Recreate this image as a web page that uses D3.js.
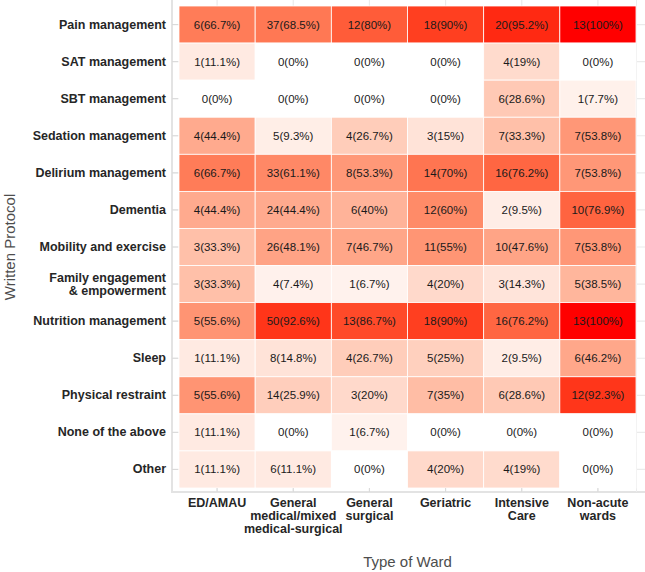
<!DOCTYPE html>
<html>
<head>
<meta charset="utf-8">
<style>
    body { margin: 0; background: #fff; }
    text { font-family: "Liberation Sans", Arial, sans-serif; }
    .domain { display: none; }
</style>
</head>
<body>
<svg width="645" height="572"></svg>
<script src="https://d3js.org/d3.v7.min.js"></script>
<script>
    // columns (type of ward) and rows (written protocol)
    var wards = ["ED/AMAU", "General medical/mixed medical-surgical", "General surgical", "Geriatric", "Intensive Care", "Non-acute wards"];
    var wardLabels = [["ED/AMAU"], ["General", "medical/mixed", "medical-surgical"], ["General", "surgical"], ["Geriatric"], ["Intensive", "Care"], ["Non-acute", "wards"]];
    var protocols = ["Pain management", "SAT management", "SBT management", "Sedation management", "Delirium management", "Dementia",
        "Mobility and exercise", "Family engagement & empowerment", "Nutrition management", "Sleep", "Physical restraint", "None of the above", "Other"];
    var protocolLabels = {"Family engagement & empowerment": ["Family engagement", "& empowerment"]};

    // counts per row, one value per ward
    var counts = [
        [6, 37, 12, 18, 20, 13],
        [1, 0, 0, 0, 4, 0],
        [0, 0, 0, 0, 6, 1],
        [4, 5, 4, 3, 7, 7],
        [6, 33, 8, 14, 16, 7],
        [4, 24, 6, 12, 2, 10],
        [3, 26, 7, 11, 10, 7],
        [3, 4, 1, 4, 3, 5],
        [5, 50, 13, 18, 16, 13],
        [1, 8, 4, 5, 2, 6],
        [5, 14, 3, 7, 6, 12],
        [1, 0, 1, 0, 0, 0],
        [1, 6, 0, 4, 4, 0]
    ];
    // percentages per row
    var percents = [
        [66.7, 68.5, 80, 90, 95.2, 100],
        [11.1, 0, 0, 0, 19, 0],
        [0, 0, 0, 0, 28.6, 7.7],
        [44.4, 9.3, 26.7, 15, 33.3, 53.8],
        [66.7, 61.1, 53.3, 70, 76.2, 53.8],
        [44.4, 44.4, 40, 60, 9.5, 76.9],
        [33.3, 48.1, 46.7, 55, 47.6, 53.8],
        [33.3, 7.4, 6.7, 20, 14.3, 38.5],
        [55.6, 92.6, 86.7, 90, 76.2, 100],
        [11.1, 14.8, 26.7, 25, 9.5, 46.2],
        [55.6, 25.9, 20, 35, 28.6, 92.3],
        [11.1, 0, 6.7, 0, 0, 0],
        [11.1, 11.1, 0, 20, 19, 0]
    ];

    var cells = [];
    protocols.forEach(function(p, i) {
        wards.forEach(function(w, j) {
            cells.push({protocol: p, ward: w, n: counts[i][j], pct: percents[i][j]});
        });
    });

    var svg = d3.select("svg");
    var pLeft = 179, pRight = 636, pTop = 6, pBottom = 488;

    var x = d3.scaleBand().domain(wards).range([pLeft, pRight]);
    var y = d3.scaleBand().domain(protocols).range([pTop, pBottom]);
    var color = d3.scaleLinear().domain([0, 100]).range(["#ffffff", "#ff0000"]).interpolate(d3.interpolateLab);

    var grid = "#ebebeb";

    // grid lines behind tiles
    svg.append("g").selectAll("line")
        .data(wards).enter().append("line")
        .attr("x1", function(d) { return x(d) + x.bandwidth() / 2; })
        .attr("x2", function(d) { return x(d) + x.bandwidth() / 2; })
        .attr("y1", 0).attr("y2", 492)
        .attr("stroke", grid).attr("stroke-width", 1.2);
    svg.append("g").selectAll("line")
        .data(protocols).enter().append("line")
        .attr("x1", 172).attr("x2", 645)
        .attr("y1", function(d) { return y(d) + y.bandwidth() / 2; })
        .attr("y2", function(d) { return y(d) + y.bandwidth() / 2; })
        .attr("stroke", grid).attr("stroke-width", 1.2);

    // panel frame
    svg.append("line").attr("x1", 172).attr("x2", 172).attr("y1", 0).attr("y2", 493)
        .attr("stroke", "#e3e3e3").attr("stroke-width", 2);
    svg.append("line").attr("x1", 171).attr("x2", 645).attr("y1", 492).attr("y2", 492)
        .attr("stroke", "#e3e3e3").attr("stroke-width", 2);
    svg.append("line").attr("x1", 636.5).attr("x2", 636.5).attr("y1", 0).attr("y2", 492)
        .attr("stroke", "#ececec").attr("stroke-width", 1);

    // tiles
    svg.append("g").selectAll("rect")
        .data(cells).enter().append("rect")
        .attr("x", function(d) { return x(d.ward); })
        .attr("y", function(d) { return y(d.protocol); })
        .attr("width", x.bandwidth())
        .attr("height", y.bandwidth())
        .attr("fill", function(d) { return color(d.pct); })
        .attr("stroke", "#ffffff")
        .attr("stroke-width", 0.8);

    svg.append("g").selectAll("text")
        .data(cells).enter().append("text")
        .attr("x", function(d) { return x(d.ward) + x.bandwidth() / 2; })
        .attr("y", function(d) { return y(d.protocol) + y.bandwidth() / 2; })
        .attr("dy", "0.35em")
        .attr("text-anchor", "middle")
        .attr("font-size", 11.5)
        .attr("fill", "#1a1a1a")
        .text(function(d) { return d.n + "(" + d.pct + "%)"; });

    // y axis
    var yAx = svg.append("g")
        .attr("transform", "translate(178,0)")
        .call(d3.axisLeft(y).tickSize(6).tickPadding(6));
    yAx.selectAll(".tick line").attr("stroke", "#d9d9d9");
    yAx.selectAll(".tick text")
        .attr("font-size", 12.5).attr("font-weight", "bold").attr("fill", "#262626")
        .each(function(d) {
            var lines = protocolLabels[d];
            if (!lines) return;
            var t = d3.select(this).text("").attr("dy", null);
            lines.forEach(function(l, i) {
                t.append("tspan").attr("x", -12)
                    .attr("y", -6.5 + i * 13).attr("dy", "0.35em").text(l);
            });
        });

    // x axis
    var xAx = svg.append("g")
        .attr("transform", "translate(0,488)")
        .call(d3.axisBottom(x).tickSize(4).tickPadding(6));
    xAx.selectAll(".tick line").attr("stroke", "#d9d9d9");
    xAx.selectAll(".tick text")
        .attr("font-size", 12.5).attr("font-weight", "bold").attr("fill", "#262626")
        .each(function(d, j) {
            var t = d3.select(this).text("").attr("dy", null).attr("y", null);
            wardLabels[j].forEach(function(l, i) {
                t.append("tspan").attr("x", 0).attr("y", 19 + i * 13).text(l);
            });
        });

    // axis titles
    svg.append("text")
        .attr("transform", "translate(15," + (pTop + pBottom) / 2 + ") rotate(-90)")
        .attr("text-anchor", "middle")
        .attr("font-size", 15).attr("fill", "#4d4d4d")
        .text("Written Protocol");
    svg.append("text")
        .attr("x", (pLeft + pRight) / 2).attr("y", 567)
        .attr("text-anchor", "middle")
        .attr("font-size", 15).attr("fill", "#4d4d4d")
        .text("Type of Ward");
</script>
</body>
</html>
